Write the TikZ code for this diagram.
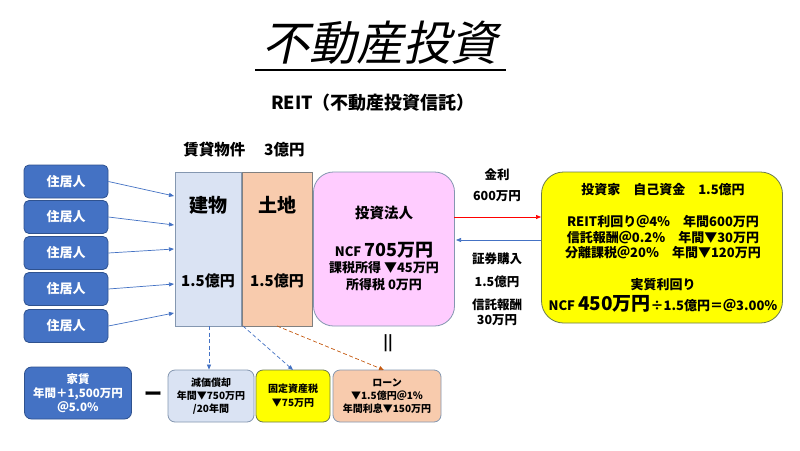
\documentclass[tikz,border=0pt]{standalone}
\usepackage{fontspec}
\setmainfont{Noto Sans CJK JP}
\usetikzlibrary{arrows.meta}
\definecolor{bluebox}{HTML}{4472C4}
\definecolor{blueline}{HTML}{2F528F}
\definecolor{lightblue}{HTML}{DAE3F3}
\definecolor{lbline}{HTML}{8497B0}
\definecolor{orangebox}{HTML}{F8CBAD}
\definecolor{pinkbox}{HTML}{FFCCFF}
\definecolor{yellowbox}{HTML}{FFFF00}
\definecolor{yline}{HTML}{6B7A4F}
\definecolor{arrowblue}{HTML}{4472C4}
\definecolor{arroworange}{HTML}{C55A11}
\newcommand{\fs}[1]{\fontsize{#1}{#1}\selectfont}
\tikzset{
  resident/.style={draw=blueline, line width=0.8pt, fill=bluebox, rounded corners=5pt,
    minimum width=84pt, minimum height=33pt, text=white, font=\fs{13}\bfseries, inner sep=0pt},
  plainbox/.style={draw, line width=0.8pt, inner sep=0pt},
  txt/.style={inner sep=0pt, font=\bfseries},
  tip/.style={-{Triangle[length=5pt,width=4pt]}},
  conn/.style={tip, draw=arrowblue, line width=0.7pt},
  dconn/.style={tip, line width=0.7pt, dash pattern=on 4pt off 2.5pt},
}
\begin{document}
\begin{tikzpicture}[x=1pt,y=-1pt]
\useasboundingbox (0,0) rectangle (800,450);
\fill[white] (0,0) rectangle (800,450);

% title
\node[inner sep=0pt, font=\fs{47}\addfontfeature{FakeSlant=0.22}] (title) at (380,43) {不動産投資};
\coordinate (ul1) at (255,70);
\coordinate (ul2) at (506,70);
\draw[line width=1.1pt] (ul1) -- (ul2);
\node[txt, font=\fs{18}\bfseries] (reit) at (373,103) {REIT（不動産投資信託）};
\node[txt, font=\fs{15.5}\bfseries] (chintai) at (244,150) {賃貸物件\hspace{1.2em}3億円};

% residents
\node[resident] (r1) at (66,181.5) {住居人};
\node[resident] (r2) at (66,217) {住居人};
\node[resident] (r3) at (66,253) {住居人};
\node[resident] (r4) at (66,289) {住居人};
\node[resident] (r5) at (66,326) {住居人};

% building / land
\node[plainbox, draw=lbline, fill=lightblue, minimum width=66pt, minimum height=154pt] (bldg) at (208,249) {};
\node[plainbox, draw=gray, fill=orangebox, minimum width=70pt, minimum height=154pt] (land) at (277,249) {};
\node[txt, font=\fs{19}\bfseries] (bldgT) at (208,205) {建物};
\node[txt, font=\fs{15}\bfseries] (bldgV) at (208,281) {1.5億円};
\node[txt, font=\fs{19}\bfseries] (landT) at (277,205) {土地};
\node[txt, font=\fs{15}\bfseries] (landV) at (277,281) {1.5億円};

\coordinate (t1) at (174,196);
\coordinate (t2) at (174,225);
\coordinate (t3) at (174,249);
\coordinate (t4) at (174,284);
\coordinate (t5) at (174,313);
\draw[conn] (r1.east) -- (t1);
\draw[conn] (r2.east) -- (t2);
\draw[conn] (r3.east) -- (t3);
\draw[conn] (r4.east) -- (t4);
\draw[conn] (r5.east) -- (t5);

% investment corporation
\node[plainbox, draw=lbline, fill=pinkbox, rounded corners=20pt, minimum width=141pt, minimum height=154pt] (corp) at (384,249) {};
\node[txt, font=\fs{14.5}\bfseries] (corpT) at (384,213) {投資法人};
\node[txt] (corpN) at (384,250) {\fs{13}\bfseries NCF \fs{18}\bfseries 705万円};
\node[txt, font=\fs{13}\bfseries] (corpK) at (384,268) {課税所得 ▼45万円};
\node[txt, font=\fs{13}\bfseries] (corpS) at (384,285) {所得税 0万円};

% investor
\node[plainbox, draw=yline, fill=yellowbox, rounded corners=22pt, minimum width=241pt, minimum height=151pt] (inv) at (662,247.5) {};
\node[txt, font=\fs{13}\bfseries] (inv1) at (663,190) {投資家\hspace{1em}自己資金\hspace{1em}1.5億円};
\node[txt, font=\fs{13}\bfseries] (inv2) at (663,222) {REIT利回り＠4％\hspace{1em}年間600万円};
\node[txt, font=\fs{13}\bfseries] (inv3) at (663,237.5) {信託報酬＠0.2％\hspace{1em}年間▼30万円};
\node[txt, font=\fs{13}\bfseries] (inv4) at (663,253) {分離課税＠20％\hspace{1em}年間▼120万円};
\node[txt, font=\fs{13}\bfseries] (inv5) at (663,285) {実質利回り};
\node[txt] (inv6) at (663,304) {\fs{13}\bfseries NCF \fs{19}\bfseries 450万円\fs{13}\bfseries ÷1.5億円＝＠3.00％};

% flows between corp and investor
\coordinate (rA) at (454,217);
\coordinate (rB) at (541,217);
\coordinate (bA) at (541,240);
\coordinate (bB) at (456,240);
\draw[tip, draw=red, line width=0.7pt] (rA) -- (rB);
\draw[tip, draw=arrowblue, line width=0.7pt] (bA) -- (bB);
\node[txt, font=\fs{12.5}\bfseries] (kinri) at (497,175) {金利};
\node[txt, font=\fs{12.5}\bfseries] (kinriV) at (497,196) {600万円};
\node[txt, font=\fs{12.5}\bfseries] (shoken) at (497,259) {証券購入};
\node[txt, font=\fs{12.5}\bfseries] (shokenV) at (497,282) {1.5億円};
\node[txt, font=\fs{12.5}\bfseries] (shintaku) at (497,305) {信託報酬};
\node[txt, font=\fs{12.5}\bfseries] (shintakuV) at (497,320) {30万円};

\node[txt, font=\fs{15}\bfseries] (eq) at (388,343) {||};

% bottom row
\node[plainbox, draw=blueline, fill=bluebox, rounded corners=7pt, minimum width=107pt, minimum height=52pt, text=white, align=center, font=\fontsize{11.5}{14}\selectfont\bfseries] (rent) at (78,393) {家賃\\年間＋1,500万円\\＠5.0％};
\node[txt, font=\fs{18}\bfseries] (minus) at (153,396) {ー};
\node[plainbox, draw=lbline, fill=lightblue, rounded corners=7pt, minimum width=86pt, minimum height=52pt, align=center, font=\fontsize{10}{13}\selectfont\bfseries] (dep) at (211,396) {減価償却\\年間▼750万円\\/20年間};
\node[plainbox, draw=yline, fill=yellowbox, rounded corners=7pt, minimum width=74pt, minimum height=52pt, align=center, font=\fontsize{10}{14}\selectfont\bfseries] (tax) at (293,396) {固定資産税\\▼75万円};
\node[plainbox, draw=lbline, fill=orangebox, rounded corners=7pt, minimum width=108pt, minimum height=52pt, align=center, font=\fontsize{10}{13}\selectfont\bfseries] (loan) at (387,396) {ローン\\▼1.5億円＠1％\\年間利息▼150万円};

\coordinate (d1) at (209,326);
\coordinate (d2) at (243,326);
\coordinate (d3) at (277,326);
\coordinate (e2) at (293,370);
\coordinate (e3) at (384,370);
\draw[dconn, draw=arrowblue] (d1) -- (d1 |- dep.north);
\draw[dconn, draw=arrowblue] (d2) -- (e2);
\draw[dconn, draw=arroworange] (d3) -- (e3);
\end{tikzpicture}
\end{document}
